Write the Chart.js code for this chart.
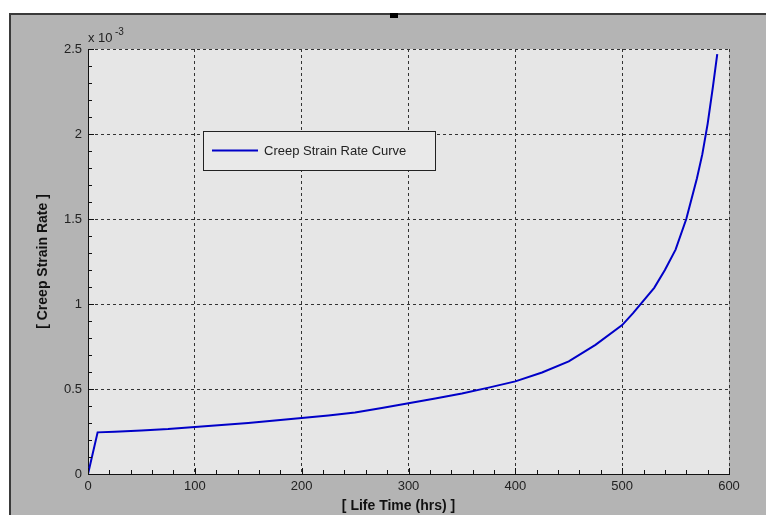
<!DOCTYPE html>
<html>
<head>
<meta charset="utf-8">
<script src="https://cdn.jsdelivr.net/npm/chart.js"></script>
<style>
  html, body { margin: 0; padding: 0; background: #fff; }
  #panel {
    position: absolute; left: 9px; top: 13px; width: 757px; height: 502px;
    background: #b4b4b4; border-top: 2px solid #3a3a3a; border-left: 2px solid #3a3a3a;
    box-sizing: border-box;
  }
  #marker {
    position: absolute; left: 390px; top: 13px; width: 8px; height: 5px; background: #000;
  }
  #wrap { position: absolute; left: 0; top: 0; width: 766px; height: 515px; }
</style>
</head>
<body>
<div id="panel"></div>
<div id="marker"></div>
<div id="wrap"><canvas id="chart" width="766" height="515"></canvas></div>
<script>
// life time in hours
const lifeTime = [0, 9, 25, 50, 75, 100, 125, 150, 175, 200, 225, 250, 275, 300, 325, 350, 375,
  400, 425, 450, 475, 500, 510, 520, 530, 540, 550, 560, 570, 575, 580, 585, 589]
// creep strain rate, in units of 1e-3
const strainRate = [0, 0.245, 0.249, 0.256, 0.264, 0.277, 0.288, 0.300, 0.314, 0.329, 0.344, 0.362, 0.388,
  0.416, 0.444, 0.474, 0.508, 0.545, 0.597, 0.662, 0.760, 0.876, 0.945, 1.020, 1.095, 1.200, 1.320,
  1.500, 1.740, 1.880, 2.060, 2.280, 2.470]
const xTicks = [0, 100, 200, 300, 400, 500, 600]
const yTicks = [0, 0.5, 1, 1.5, 2, 2.5]
const seriesLabel = "Creep Strain Rate Curve"

const lineColor = "#0000c8"
const tickFont = { family: "'Liberation Sans', Arial, sans-serif", size: 13 }
const titleFont = { family: "'Liberation Sans', Arial, sans-serif", size: 14, weight: "bold" }

// plot background, minor ticks, exponent and legend box
const decorations = {
  id: "decorations",
  beforeDraw(chart) {
    const { ctx, chartArea: a } = chart
    ctx.save()
    ctx.fillStyle = "#e6e6e6"
    ctx.fillRect(a.left, a.top, a.right - a.left, a.bottom - a.top)
    ctx.restore()
  },
  afterDraw(chart) {
    const { ctx, chartArea: a, scales } = chart
    ctx.save()
    ctx.strokeStyle = "#111"
    ctx.lineWidth = 1
    ctx.beginPath()
    for (let v = 0; v <= 600; v += 20) {
      const px = Math.round(scales.x.getPixelForValue(v)) + 0.5
      const len = v % 100 === 0 ? 6 : 4
      ctx.moveTo(px, a.bottom)
      ctx.lineTo(px, a.bottom - len)
    }
    for (let i = 0; i <= 25; i++) {
      const py = Math.round(scales.y.getPixelForValue(i / 10)) + 0.5
      const len = i % 5 === 0 ? 6 : 4
      ctx.moveTo(a.left, py)
      ctx.lineTo(a.left + len, py)
    }
    ctx.stroke()

    // exponent label
    ctx.fillStyle = "#222"
    ctx.font = "13px 'Liberation Sans', Arial, sans-serif"
    ctx.textBaseline = "alphabetic"
    ctx.textAlign = "left"
    ctx.fillText("x 10", a.left, a.top - 7)
    ctx.font = "10px 'Liberation Sans', Arial, sans-serif"
    ctx.fillText("-3", a.left + 27, a.top - 14)

    // legend
    const lx = a.left + 115, ly = a.top + 82, lw = 232, lh = 39
    ctx.fillStyle = "#e9e9e9"
    ctx.fillRect(lx, ly, lw, lh)
    ctx.strokeStyle = "#222"
    ctx.strokeRect(lx + 0.5, ly + 0.5, lw, lh)
    const ds = chart.data.datasets[0]
    ctx.strokeStyle = ds.borderColor
    ctx.lineWidth = 2
    ctx.beginPath()
    ctx.moveTo(lx + 9, ly + 19.5)
    ctx.lineTo(lx + 55, ly + 19.5)
    ctx.stroke()
    ctx.fillStyle = "#222"
    ctx.font = "13px 'Liberation Sans', Arial, sans-serif"
    ctx.textBaseline = "middle"
    ctx.fillText(ds.label, lx + 61, ly + 20)

    // x axis title, centred a bit left of the plot centre as in the original
    ctx.fillStyle = "#111"
    ctx.font = "bold 14px 'Liberation Sans', Arial, sans-serif"
    ctx.textAlign = "center"
    ctx.textBaseline = "middle"
    ctx.fillText("[ Life Time (hrs) ]", (a.left + a.right) / 2 - 10, a.bottom + 32)
    ctx.restore()
  }
}

const ctx = document.getElementById("chart").getContext("2d")
new Chart(ctx, {
  type: "line",
  data: {
    datasets: [{
      label: seriesLabel,
      data: lifeTime.map((t, i) => ({ x: t, y: strainRate[i] })),
      borderColor: lineColor,
      borderWidth: 2,
      pointRadius: 0,
      tension: 0,
      fill: false
    }]
  },
  options: {
    responsive: false,
    animation: false,
    layout: { padding: { left: 0, top: 49, right: 37, bottom: 0 } },
    plugins: { legend: { display: false }, tooltip: { enabled: false } },
    scales: {
      x: {
        type: "linear",
        min: 0,
        max: 600,
        afterFit: (s) => { s.height = 41 },
        afterBuildTicks: (s) => { s.ticks = xTicks.map((v) => ({ value: v })) },
        ticks: { color: "#222", font: tickFont, padding: 5, maxRotation: 0, callback: (v) => String(v) },
        grid: { color: "#333", drawTicks: false },
        border: { display: true, color: "#111", width: 1, dash: [3, 3] }
      },
      y: {
        min: 0,
        max: 2.5,
        afterFit: (s) => { s.width = 88 },
        afterBuildTicks: (s) => { s.ticks = yTicks.map((v) => ({ value: v })) },
        ticks: { color: "#222", font: tickFont, padding: 6, callback: (v) => String(v) },
        grid: { color: "#333", drawTicks: false },
        border: { display: true, color: "#111", width: 1, dash: [3, 3] },
        title: { display: true, text: "[ Creep Strain Rate ]", color: "#111", font: titleFont, padding: { top: 35, bottom: 0 } }
      }
    }
  },
  plugins: [decorations]
})
</script>
</body>
</html>
